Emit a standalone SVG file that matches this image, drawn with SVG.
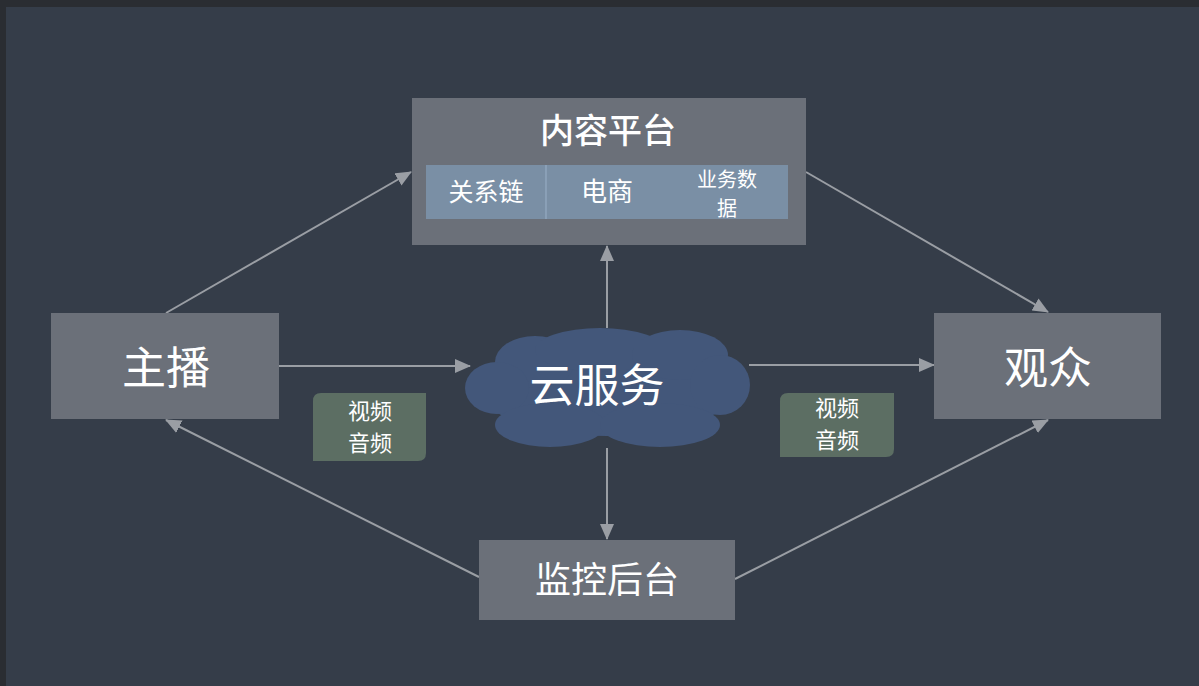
<svg xmlns="http://www.w3.org/2000/svg" width="1199" height="686" viewBox="0 0 1199 686">
<defs>
<style>
.box{fill:#6b7079}
.t{font-family:"Noto Sans CJK SC","Noto Sans CJK JP",sans-serif;fill:#ffffff;text-anchor:middle}
.c{stroke:#9a9ea4;stroke-width:2;fill:none;marker-end:url(#ah)}
.lab{fill:#5c6e63}
</style>
<marker id="ah" markerUnits="userSpaceOnUse" markerWidth="16" markerHeight="14" viewBox="0 0 16 14" refX="15" refY="7" orient="auto">
<path d="M0,0 L16,7 L0,14 Z" fill="#9a9ea4"/>
</marker>
</defs>
<rect width="1199" height="686" fill="#2a2d32"/>
<rect x="6" y="7" width="1193" height="679" fill="#353d49"/>
<g id="connectors">
<line class="c" x1="166" y1="313" x2="411" y2="172"/>
<line class="c" x1="806" y1="172" x2="1048" y2="312"/>
<line class="c" x1="279" y1="366" x2="470" y2="366"/>
<line class="c" x1="749" y1="365" x2="934" y2="365"/>
<line class="c" x1="607" y1="328" x2="607" y2="246"/>
<line class="c" x1="607" y1="448" x2="607" y2="539"/>
<line class="c" x1="479" y1="577" x2="166" y2="420"/>
<line class="c" x1="735" y1="579" x2="1048" y2="420"/>
</g>
<g id="content-platform">
<rect class="box" x="412" y="98" width="394" height="147"/>
<text class="t" x="608" y="143" font-size="34" font-weight="500">内容平台</text>
<rect x="426" y="165" width="362" height="54" fill="#7a8fa5"/>
<line x1="546" y1="165" x2="546" y2="219" stroke="#9ab0c8" stroke-width="1"/>
<text class="t" x="486" y="201" font-size="25">关系链</text>
<text class="t" x="607" y="201" font-size="26">电商</text>
<text class="t" x="727" y="187" font-size="20">业务数</text>
<text class="t" x="727" y="216" font-size="20">据</text>
</g>
<g id="anchor">
<rect class="box" x="51" y="313" width="228" height="106"/>
<text class="t" x="166" y="384" font-size="44">主播</text>
</g>
<g id="audience">
<rect class="box" x="934" y="313" width="227" height="106"/>
<text class="t" x="1048" y="384" font-size="44">观众</text>
</g>
<g id="cloud">
<g fill="#43577a">
<ellipse cx="607" cy="388" rx="128" ry="48"/>
<ellipse cx="535" cy="362" rx="40" ry="26"/>
<ellipse cx="600" cy="350" rx="65" ry="22"/>
<ellipse cx="680" cy="355" rx="48" ry="25"/>
<ellipse cx="720" cy="385" rx="30" ry="30"/>
<ellipse cx="497" cy="388" rx="32" ry="26"/>
<ellipse cx="550" cy="425" rx="55" ry="22"/>
<ellipse cx="660" cy="425" rx="60" ry="22"/>
</g>
<text class="t" x="597" y="402" font-size="45">云服务</text>
</g>
<g id="monitor">
<rect class="box" x="479" y="540" width="256" height="80"/>
<text class="t" x="607" y="593" font-size="36">监控后台</text>
</g>
<g id="label-left">
<path class="lab" d="M321,393 H426 V453 Q426,461 418,461 H313 V401 Q313,393 321,393 Z"/>
<text class="t" x="370" y="419" font-size="22">视频</text>
<text class="t" x="370" y="451" font-size="22">音频</text>
</g>
<g id="label-right">
<path class="lab" d="M788,393 H894 V449 Q894,457 886,457 H780 V401 Q780,393 788,393 Z"/>
<text class="t" x="837" y="416" font-size="22">视频</text>
<text class="t" x="837" y="448" font-size="22">音频</text>
</g>
</svg>
